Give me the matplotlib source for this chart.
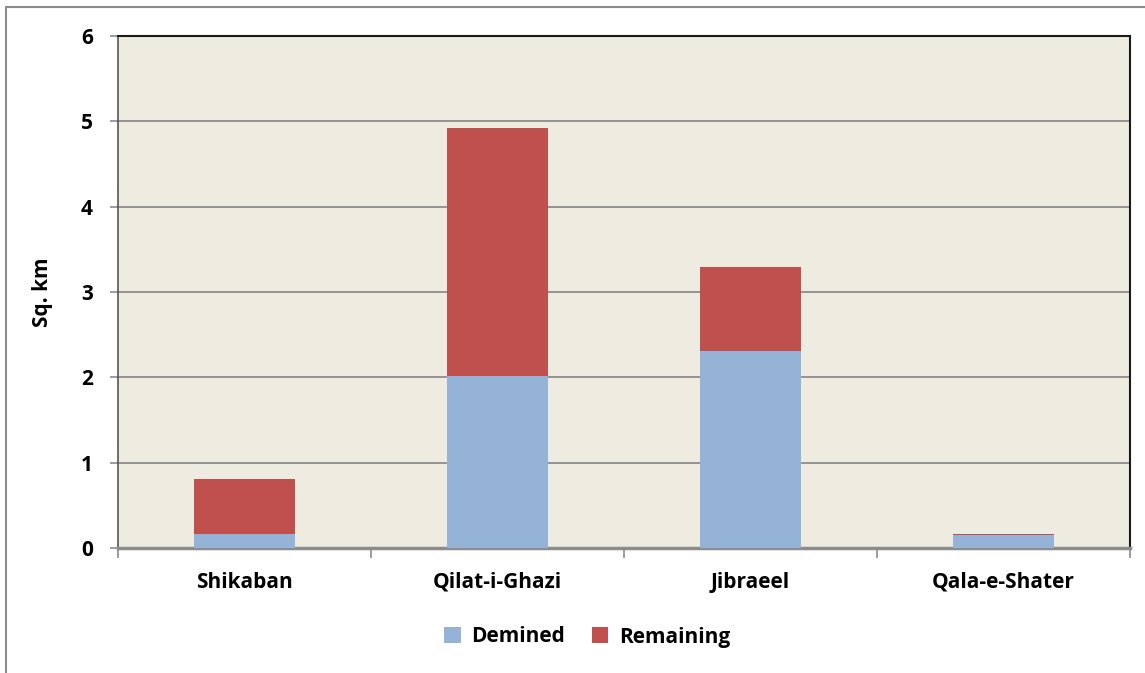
import matplotlib
matplotlib.use("Agg")
import matplotlib.pyplot as plt
from matplotlib.patches import Rectangle
import numpy as np

categories = ["Shikaban", "Qilat-i-Ghazi", "Jibraeel", "Qala-e-Shater"]
demined = [0.16, 2.01, 2.31, 0.15]
remaining = [0.65, 2.91, 0.98, 0.01]
yticks = [0, 1, 2, 3, 4, 5, 6]

plt.rcParams['font.family'] = ['Open Sans', 'DejaVu Sans']
plt.rcParams['font.weight'] = 'bold'

W, H = 1145, 673
fig = plt.figure(figsize=(W/100, H/100), dpi=100)
ax = fig.add_axes([118/W, 1-548/H, (1130-118)/W, (548-36)/H])
ax.set_facecolor('#EEEBE0')

x = np.arange(len(categories))
ax.bar(x, demined, width=0.4, color='#95B3D7', label='Demined', zorder=3)
ax.bar(x, remaining, width=0.4, bottom=demined, color='#C0504D', label='Remaining', zorder=3)

ax.set_xlim(-0.5, len(categories)-0.5)
ax.set_ylim(0, 6)
ax.set_yticks(yticks)
ax.set_yticklabels([str(v) for v in yticks], fontsize=15, fontweight='bold')
ax.yaxis.grid(True, color='#8C8C8C', linewidth=1.3, zorder=0)
ax.set_axisbelow(True)

ax.set_xticks(x)
ax.set_xticklabels(categories, fontsize=15, fontweight='bold')
ax.tick_params(axis='x', length=0, pad=17)
ax.set_xticks(np.arange(-0.5, len(categories), 1), minor=True)
ax.tick_params(axis='x', which='minor', length=7, color='#8C8C8C', width=1.2)
ax.tick_params(axis='y', length=6, color='#8C8C8C', width=1.2, pad=12)

ax.set_ylabel('Sq. km', fontsize=15, fontweight='bold', labelpad=20)

for s in ['top', 'right']:
    ax.spines[s].set_color('#1a1a1a')
    ax.spines[s].set_linewidth(1.5)
ax.spines['left'].set_color('#555555')
ax.spines['left'].set_linewidth(1.2)
ax.spines['bottom'].set_color('#8C8C8C')
ax.spines['bottom'].set_linewidth(2.5)

leg = fig.legend(loc='center', bbox_to_anchor=(587/W, 1-637/H), ncol=2, frameon=False,
                 prop={'size': 15, 'weight': 'bold'}, handlelength=0.8, handleheight=0.8,
                 columnspacing=1.3, handletextpad=0.5)

fig.patches.append(Rectangle((6/W, -0.1), 1.2, 1+0.1-7/H, transform=fig.transFigure,
                             fill=False, edgecolor='#8C8C8C', linewidth=1.5))

fig.savefig('out.png', dpi=100)
